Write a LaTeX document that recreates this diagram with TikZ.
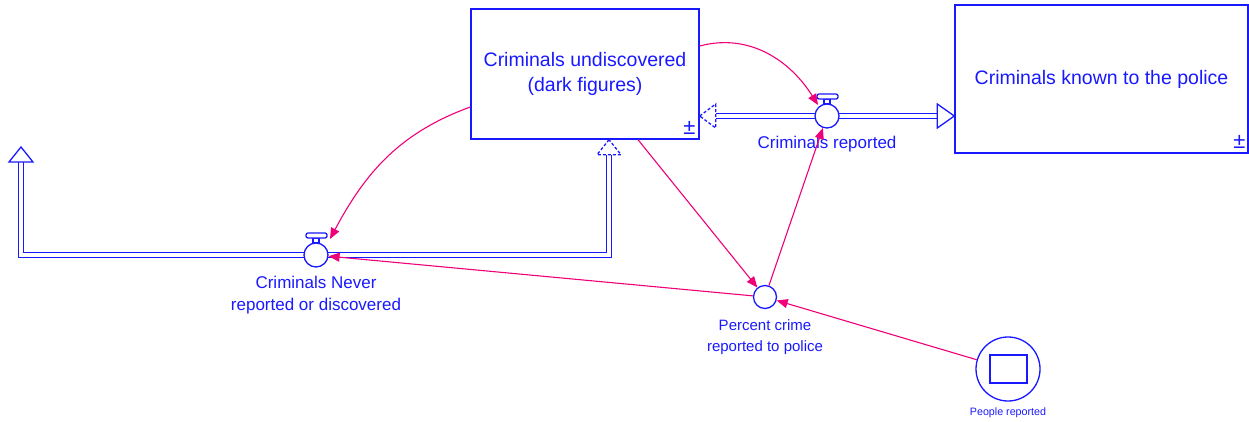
\documentclass[tikz,border=0pt]{standalone}
\usepackage{fontspec}
\setmainfont{Liberation Sans}
\usetikzlibrary{arrows.meta,calc}
\definecolor{sdblue}{RGB}{25,25,255}
\definecolor{sdlink}{RGB}{240,0,120}

\tikzset{
  stock/.style={rectangle, draw=sdblue, line width=1.4pt, fill=white,
    text=sdblue, align=center, inner sep=0pt},
  pipe/.style={draw=sdblue, line width=1.3pt, double=white,
    double distance=3.6pt, line join=miter},
  pipehead/.style={draw=sdblue, line width=1.3pt, fill=white, line join=miter},
  valve/.style={circle, draw=sdblue, line width=1.3pt, fill=white,
    minimum size=24pt, inner sep=0pt},
  handle/.style={draw=sdblue, line width=1.3pt, fill=white},
  aux/.style={circle, draw=sdblue, line width=1.3pt, fill=white,
    minimum size=23pt, inner sep=0pt},
  lbl/.style={text=sdblue, align=center, inner sep=0pt},
  link/.style={draw=sdlink, line width=1.1pt,
    -{Triangle[length=11pt,width=9pt]}},
  pm/.style={text=sdblue, inner sep=0pt, font=\fontsize{22}{22}\selectfont},
}

\begin{document}
\begin{tikzpicture}[x=1pt,y=-1pt]
\useasboundingbox (0,0) rectangle (1249,421);

% stocks
\node[stock, minimum width=228pt, minimum height=130pt,
      font=\fontsize{19.5}{25}\selectfont] (s1) at (585,74)
  {Criminals undiscovered\\(dark figures)};
\node[stock, minimum width=293pt, minimum height=148pt,
      font=\fontsize{19.5}{25}\selectfont] (s2) at (1101.5,79)
  {Criminals known to the police};
\node[pm] (s1pm) at (689.5,128) {±};
\node[pm] (s2pm) at (1239.5,142) {±};

% flow valves and pipe end points
\coordinate (r1) at (827,116);
\coordinate (n1) at (316,255);
\coordinate (n1src) at (609,155);
\coordinate (n1corner) at (609,255);
\coordinate (n1sink) at (21,162);
\coordinate (n1sinkc) at (21,255);

% pipes
\draw[pipe] (s1.east |- r1) ++(16,0) -- (r1);
\draw[pipe] (r1) -- ($(r1 -| s2.west)+(-17,0)$);
\draw[pipe] (n1src) -- (n1corner) -- (n1) -- (n1sinkc) -- (n1sink);

% pipe arrowheads
\draw[pipehead] (r1 -| s2.west) -- ++(-17,-12) -- ++(0,24) -- cycle;
\draw[pipehead, dashed, dash pattern=on 3pt off 2pt]
  (s1.east |- r1) -- ++(16,-12) -- ++(0,24) -- cycle;
\draw[pipehead] ($(n1sink)+(0,-15)$) -- ++(-12,15) -- ++(24,0) -- cycle;
\draw[pipehead, dashed, dash pattern=on 3pt off 2pt]
  (s1.south -| n1src) -- ++(-12,15) -- ++(24,0) -- cycle;

% valves
\foreach \v in {r1,n1} {
  \draw[handle] ($(\v)+(-3,-12)$) rectangle ($(\v)+(3,-17)$);
  \draw[handle, rounded corners=2pt] ($(\v)+(-10,-17)$) rectangle ($(\v)+(11,-22)$);
}
\node[valve] (r1v) at (r1) {};
\node[valve] (n1v) at (n1) {};

% flow labels
\node[lbl, font=\fontsize{17}{22}\selectfont] (r1lbl) at (827,144) {Criminals reported};
\node[lbl, font=\fontsize{17}{22}\selectfont] (n1lbl) at (316,295)
  {Criminals Never\\reported or discovered};

% auxiliaries
\node[aux] (pc) at (765,297) {};
\node[lbl, font=\fontsize{15}{20.5}\selectfont] (pclbl) at (765,337)
  {Percent crime\\reported to police};
\node[circle, draw=sdblue, line width=1.3pt, fill=white, minimum size=64pt,
      inner sep=0pt] (pr) at (1008,369) {};
\draw[draw=sdblue, line width=1.3pt] (990,355) rectangle (1027,383);
\node[lbl, font=\fontsize{10.7}{12}\selectfont] (prlbl) at (1008,413) {People reported};

% information links
\draw[link] ([yshift=28pt]s1.east) to[out=15, in=122]
  ([shift={(-9pt,11pt)}]r1.center);
\draw[link] ([yshift=-33pt]s1.west) to[out=200, in=62]
  ([shift={(14pt,16pt)}]n1.center);
\draw[link] ([xshift=53pt]s1.south) -- (pc);
\draw[link] (pc) -- (r1v);
\draw[link] (pc) -- (n1v);
\draw[link] (pr) -- (pc);
\end{tikzpicture}
\end{document}
